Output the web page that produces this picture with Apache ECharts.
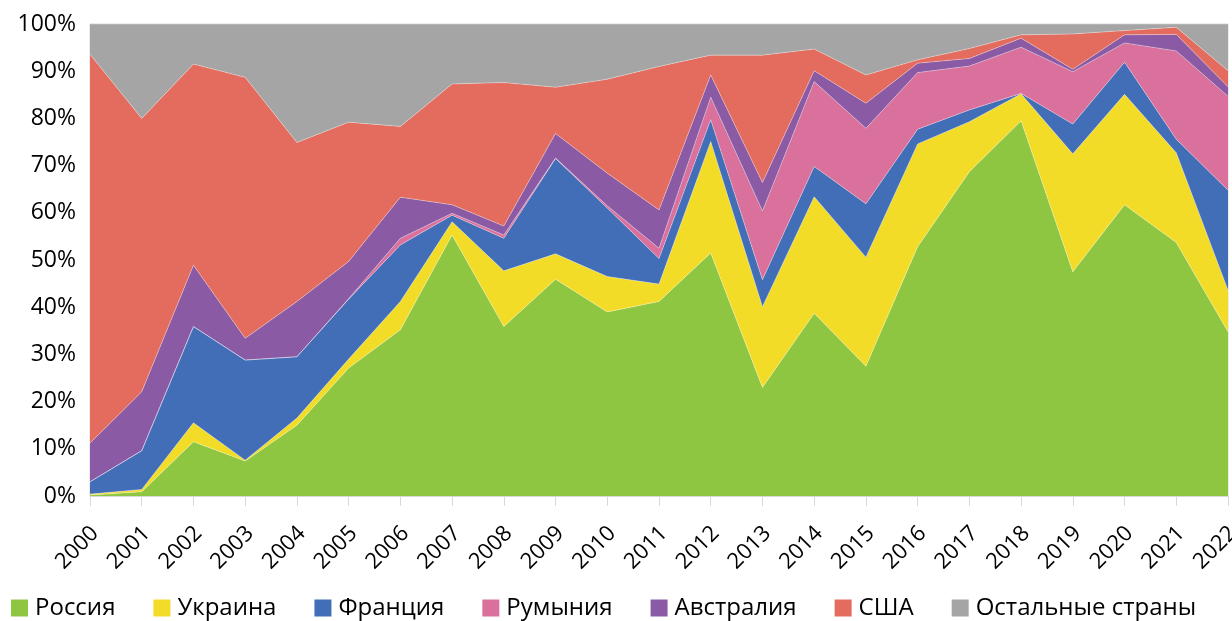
<!DOCTYPE html>
<html>
<head>
<meta charset="utf-8">
<script src="https://cdn.jsdelivr.net/npm/echarts@6/dist/echarts.min.js"></script>
<style>
  html, body { margin: 0; padding: 0; background: #fff; }
  #main { width: 1232px; height: 621px; }
</style>
</head>
<body>
<div id="main"></div>
<script>
// ====== данные (доли, %) ======
const years = ["2000","2001","2002","2003","2004","2005","2006","2007","2008","2009","2010",
  "2011","2012","2013","2014","2015","2016","2017","2018","2019","2020","2021","2022"];

const russia    = [0.2, 0.9, 11.5, 7.4, 15.0, 27.1, 35.2, 55.3, 35.9, 45.9, 39.0, 41.2, 51.5, 23.0, 38.7, 27.5, 52.8, 68.7, 79.5, 47.5, 61.7, 53.7, 34.8];
const ukraine   = [0.2, 0.5, 4.0, 0.2, 1.5, 1.9, 6.0, 2.8, 11.8, 5.4, 7.5, 3.7, 23.6, 17.1, 24.7, 23.1, 21.8, 10.6, 5.7, 25.0, 23.4, 19.0, 8.8];
const france    = [2.6, 8.2, 20.4, 21.2, 13.0, 12.7, 12.0, 1.4, 6.9, 20.2, 14.5, 5.4, 4.6, 5.7, 6.4, 11.3, 3.1, 2.5, 0.1, 6.3, 6.8, 2.9, 21.2];
const romania   = [0, 0, 0, 0, 0, 0.1, 1.4, 0.4, 0.7, 0.1, 0.5, 2.2, 4.8, 14.6, 18.0, 16.0, 12.0, 9.3, 9.8, 11.1, 4.1, 18.7, 19.9];
const australia = [8.2, 12.5, 13.0, 4.6, 11.7, 7.9, 8.7, 1.8, 1.9, 5.2, 6.9, 8.1, 4.7, 6.0, 2.3, 5.3, 2.0, 1.6, 1.9, 0.5, 1.7, 3.5, 2.0];
const usa       = [82.4, 57.9, 42.6, 55.3, 33.7, 29.5, 15.0, 25.6, 30.4, 9.8, 19.9, 30.4, 4.2, 27.0, 4.6, 6.0, 0.7, 2.1, 0.7, 7.5, 0.9, 1.5, 3.4];
const others    = [6.4, 20.0, 8.5, 11.3, 25.1, 20.8, 21.7, 12.7, 12.4, 13.4, 11.7, 9.0, 6.6, 6.6, 5.3, 10.8, 7.6, 5.2, 2.3, 2.1, 1.4, 0.7, 9.9];

const yTicks = [0, 10, 20, 30, 40, 50, 60, 70, 80, 90, 100];

const seriesList = [
  { name: "Россия", data: russia, color: "#8FC641" },
  { name: "Украина", data: ukraine, color: "#F3DC28" },
  { name: "Франция", data: france, color: "#416EB6" },
  { name: "Румыния", data: romania, color: "#D9719C" },
  { name: "Австралия", data: australia, color: "#8A5AA5" },
  { name: "США", data: usa, color: "#E46C5E" },
  { name: "Остальные страны", data: others, color: "#A5A5A5" }
];

const FONT = "Open Sans";

const chart = echarts.init(document.getElementById("main"));

chart.setOption({
  animation: false,
  textStyle: { fontFamily: FONT },
  color: seriesList.map(s => s.color),
  grid: {
    left: 90, right: 4, top: 24, bottom: 125,
    outerBoundsMode: "none",
    show: true, borderColor: "#D9D9D9", borderWidth: 1
  },
  legend: {
    left: 11, top: 596, padding: 0,
    icon: "rect", itemWidth: 17, itemHeight: 17, itemGap: 38,
    textStyle: { fontSize: 24, lineHeight: 24, color: "#000", fontFamily: FONT, padding: [0, 0, 0, 2] },
    data: seriesList.map(s => s.name)
  },
  xAxis: {
    type: "category",
    data: years,
    boundaryGap: false,
    axisLine: { lineStyle: { color: "#D9D9D9", width: 1 } },
    axisTick: { show: true, interval: 0, length: 10, lineStyle: { color: "#D9D9D9" } },
    // подписи годов рисуются ниже отдельно (margin у повёрнутых подписей не срабатывал)
    axisLabel: { show: false },
    splitLine: { show: false }
  },
  yAxis: {
    type: "value",
    min: yTicks[0], max: yTicks[yTicks.length - 1], interval: 10,
    axisLine: { show: true, lineStyle: { color: "#D9D9D9" } },
    axisTick: { show: false },
    axisLabel: { formatter: "{value}%", fontSize: 23, color: "#000", margin: 14, fontFamily: FONT },
    splitLine: { show: false }
  },
  series: seriesList.map(s => ({
    name: s.name,
    type: "line",
    stack: "total",
    data: s.data,
    showSymbol: false,
    symbol: "none",
    lineStyle: { width: 0.6, color: "rgba(255,255,255,0.55)" },
    itemStyle: { color: s.color },
    areaStyle: { color: s.color, opacity: 1 }
  }))
});

// ====== подписи годов под 45°, позиции берём из осей ======
const axisY = chart.convertToPixel({ yAxisIndex: 0 }, 0);
chart.setOption({
  graphic: years.map(yr => ({
    type: "text",
    x: chart.convertToPixel({ xAxisIndex: 0 }, yr) + 5,
    y: axisY + 34,
    rotation: Math.PI / 4,
    silent: true,
    style: {
      text: yr, align: "right", verticalAlign: "middle",
      fontSize: 22, fontFamily: FONT, fill: "#000"
    }
  }))
});

window.addEventListener("resize", () => chart.resize());
</script>
</body>
</html>
